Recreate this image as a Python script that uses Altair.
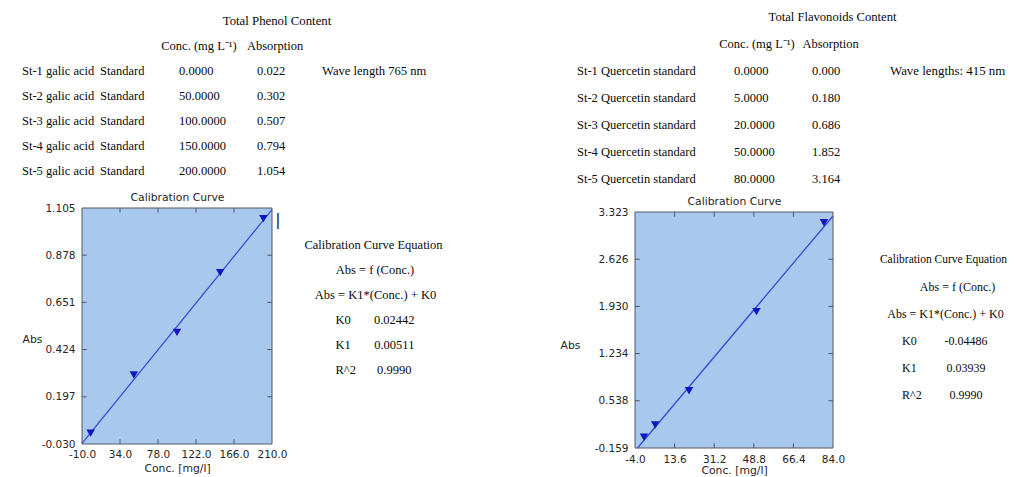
import altair as alt
import pandas as pd

# ---------------- data ----------------
phenol_names = ["St-1 galic acid", "St-2 galic acid", "St-3 galic acid",
                "St-4 galic acid", "St-5 galic acid"]
phenol_kind = ["Standard", "Standard", "Standard", "Standard", "Standard"]
phenol_conc = [0.0, 50.0, 100.0, 150.0, 200.0]
phenol_abs = [0.022, 0.302, 0.507, 0.794, 1.054]
phenol_k0 = 0.02442
phenol_k1 = 0.00511
phenol_r2 = 0.9990
phenol_wave = "Wave length 765 nm"
phenol_title = "Total Phenol Content"
phenol_xticks = [-10.0, 34.0, 78.0, 122.0, 166.0, 210.0]
phenol_yticks = [-0.030, 0.197, 0.424, 0.651, 0.878, 1.105]

flav_names = ["St-1 Quercetin standard", "St-2 Quercetin standard",
              "St-3 Quercetin standard", "St-4 Quercetin standard",
              "St-5 Quercetin standard"]
flav_conc = [0.0, 5.0, 20.0, 50.0, 80.0]
flav_abs = [0.000, 0.180, 0.686, 1.852, 3.164]
flav_k0 = -0.04486
flav_k1 = 0.03939
flav_r2 = 0.9990
flav_wave = "Wave lengths: 415 nm"
flav_title = "Total Flavonoids Content"
flav_xticks = [-4.0, 13.6, 31.2, 48.8, 66.4, 84.0]
flav_yticks = [-0.159, 0.538, 1.234, 1.930, 2.626, 3.323]

header_conc = "Conc. (mg L\u207b\u00b9)"
header_abs = "Absorption"
eq_lines = ["Calibration Curve Equation", "Abs = f (Conc.)", "Abs = K1*(Conc.) + K0"]
eq_labels = ["K0", "K1", "R^2"]
plot_title = "Calibration Curve"
x_title = "Conc. [mg/l]"
y_title = "Abs"

# ---------------- style ----------------
W, H = 1000, 461
SERIF = "Liberation Serif"
SANS = "DejaVu Sans"
TXT = "#0a0a0a"
AXC = "#262626"
FILL = "#a9c8ee"
FRAME = "#4f5866"
MARK = "#1414c4"
LINE = "#3a4cd6"
MINUS_FIX = "replace(datum.label, '\u2212', '-')"


def text_layer(rows, texts, x, rowscale, align="left", size=12.5, font=SERIF, color=TXT):
    df = pd.DataFrame({"row": rows, "t": texts})
    return alt.Chart(df).mark_text(
        align=align, baseline="middle", font=font, fontSize=size, color=color
    ).encode(
        x=alt.value(x),
        y=alt.Y("row:Q", scale=rowscale, axis=None),
        text="t:N",
    )


def plot_layers(conc, absb, k0, k1, xticks, yticks, xr, yr, lab_pad,
                abs_tx, abs_ty, conc_ty):
    xdom = [xticks[0], xticks[-1]]
    ydom = [yticks[0], yticks[-1]]
    xs = alt.Scale(domain=xdom, range=xr, nice=False, zero=False)
    ys = alt.Scale(domain=ydom, range=yr, nice=False, zero=False)
    xmid = (xr[0] + xr[1]) / 2

    common = dict(ticks=False, tickSize=0, domain=False, grid=False,
                  labelFont=SANS, labelFontSize=10.5, labelColor=AXC,
                  labelOverlap=False, labelFlush=False,
                  titleFont=SANS, titleFontSize=10.8, titleFontWeight="normal",
                  titleColor=AXC, titleAlign="center", titleBaseline="middle")

    x_axis = alt.Axis(orient="bottom", offset=yr[0] - H, values=xticks, format=".1f",
                      labelExpr=MINUS_FIX, labelPadding=lab_pad, labelBaseline="middle",
                      title=x_title, titleX=xmid, titleY=conc_ty, **common)
    y_axis = alt.Axis(orient="left", offset=-xr[0], values=yticks, format=".3f",
                      labelExpr=MINUS_FIX, labelPadding=7, labelBaseline="middle",
                      labelAlign="right",
                      title=y_title, titleAngle=0, titleX=abs_tx, titleY=abs_ty, **common)
    top_axis = alt.Axis(orient="top", offset=-yr[1], labels=False,
                        title=plot_title, titleX=xmid, titleY=-11, **common)

    frame_df = pd.DataFrame({"x": [xdom[0]], "x2": [xdom[1]],
                             "y": [ydom[0]], "y2": [ydom[1]]})
    bg = alt.Chart(frame_df).mark_rect(fill=FILL, stroke=FRAME, strokeWidth=1).encode(
        x=alt.X("x:Q", scale=xs, axis=x_axis), x2="x2:Q",
        y=alt.Y("y:Q", scale=ys, axis=y_axis), y2="y2:Q")

    # regression line from K1, K0 kept inside the frame
    xa = max(xdom[0], (ydom[0] - k0) / k1)
    xb = min(xdom[1], (ydom[1] - k0) / k1)
    line_df = pd.DataFrame({"x": [xa, xb], "y": [k1 * xa + k0, k1 * xb + k0]})
    line = alt.Chart(line_df).mark_line(color=LINE, strokeWidth=1.3).encode(
        x=alt.X("x:Q", scale=xs, axis=None), y=alt.Y("y:Q", scale=ys, axis=None))

    pts_df = pd.DataFrame({"x": conc, "y": absb})
    pts = alt.Chart(pts_df).mark_point(shape="triangle-down", filled=True, size=72,
                                       color=MARK, opacity=1).encode(
        x=alt.X("x:Q", scale=xs, axis=None), y=alt.Y("y:Q", scale=ys, axis=None))

    def ticks(xv, yv, shape, axis=None):
        df = pd.DataFrame({"x": xv, "y": yv})
        return alt.Chart(df).mark_point(shape=shape, filled=False, size=90,
                                        color=FRAME, strokeWidth=1, opacity=1).encode(
            x=alt.X("x:Q", scale=xs, axis=axis), y=alt.Y("y:Q", scale=ys, axis=None))

    inner_x = xticks[1:-1]
    inner_y = yticks[1:-1]
    t_bottom = ticks(inner_x, [ydom[0]] * len(inner_x), "M0,0L0,-1")
    t_top = ticks(inner_x, [ydom[1]] * len(inner_x), "M0,0L0,1", axis=top_axis)
    t_left = ticks([xdom[0]] * len(inner_y), inner_y, "M0,0L1,0")
    t_right = ticks([xdom[1]] * len(inner_y), inner_y, "M0,0L-1,0")
    return [bg, line, pts, t_bottom, t_top, t_left, t_right]


layers = []

# ---------------- left panel: phenol ----------------
rowL = alt.Scale(domain=[0, 14], range=[13, 362], nice=False, zero=False)
layers += plot_layers(phenol_conc, phenol_abs, phenol_k0, phenol_k1,
                      phenol_xticks, phenol_yticks, xr=[74, 264], yr=[436, 200],
                      lab_pad=10, abs_tx=-50, abs_ty=331, conc_ty=24)
body = [2, 3, 4, 5, 6]
layers += [
    text_layer([0], [phenol_title], 269, rowL, align="center", size=12.8),
    text_layer([1], [header_conc], 191, rowL, align="center"),
    text_layer([1], [header_abs], 267, rowL, align="center"),
    text_layer(body, phenol_names, 14, rowL),
    text_layer(body, phenol_kind, 92, rowL),
    text_layer(body, [f"{v:.4f}" for v in phenol_conc], 171, rowL),
    text_layer(body, [f"{v:.3f}" for v in phenol_abs], 249, rowL),
    text_layer([2], [phenol_wave], 314, rowL, size=12.6),
    text_layer([8], ["|"], 270, rowL, align="center", size=16, font=SANS, color="#222222"),
    text_layer([9], [eq_lines[0]], 365.5, rowL, align="center"),
    text_layer([10], [eq_lines[1]], 367, rowL, align="center"),
    text_layer([11], [eq_lines[2]], 367.5, rowL, align="center"),
    text_layer([12, 13, 14], eq_labels, 327.5, rowL),
    text_layer([12, 13, 14], [f"{phenol_k0:.5f}", f"{phenol_k1:.5f}", f"{phenol_r2:.4f}"],
               386.3, rowL, align="center"),
]

# ---------------- right panel: flavonoids ----------------
rowR = alt.Scale(domain=[0, 14], range=[9, 387], nice=False, zero=False)
layers += plot_layers(flav_conc, flav_abs, flav_k0, flav_k1,
                      flav_xticks, flav_yticks, xr=[627, 825], yr=[440, 204],
                      lab_pad=11, abs_tx=-65, abs_ty=337, conc_ty=22.5)
layers += [
    text_layer([0], [flav_title], 824.5, rowR, align="center", size=12.6),
    text_layer([1], [header_conc], 749, rowR, align="center"),
    text_layer([1], [header_abs], 822.5, rowR, align="center"),
    text_layer(body, flav_names, 569, rowR),
    text_layer(body, [f"{v:.4f}" for v in flav_conc], 726, rowR),
    text_layer(body, [f"{v:.3f}" for v in flav_abs], 804, rowR),
    text_layer([2], [flav_wave], 882, rowR, size=12.9),
    text_layer([9], [eq_lines[0]], 935.5, rowR, align="center", size=11.5),
    text_layer([10], [eq_lines[1]], 949.5, rowR, align="center", size=12),
    text_layer([11], [eq_lines[2]], 937.5, rowR, align="center", size=12),
    text_layer([12, 13, 14], eq_labels, 894, rowR, size=12),
    text_layer([12, 13, 14], [f"{flav_k0:.5f}", f"{flav_k1:.5f}", f"{flav_r2:.4f}"],
               958, rowR, align="center", size=12),
]

chart = alt.layer(*layers).resolve_scale(
    x="independent", y="independent"
).properties(
    width=W, height=H, padding=0, background="white"
).configure_view(stroke=None)

chart.save("out.html", embed_options={"renderer": "svg", "actions": False})
